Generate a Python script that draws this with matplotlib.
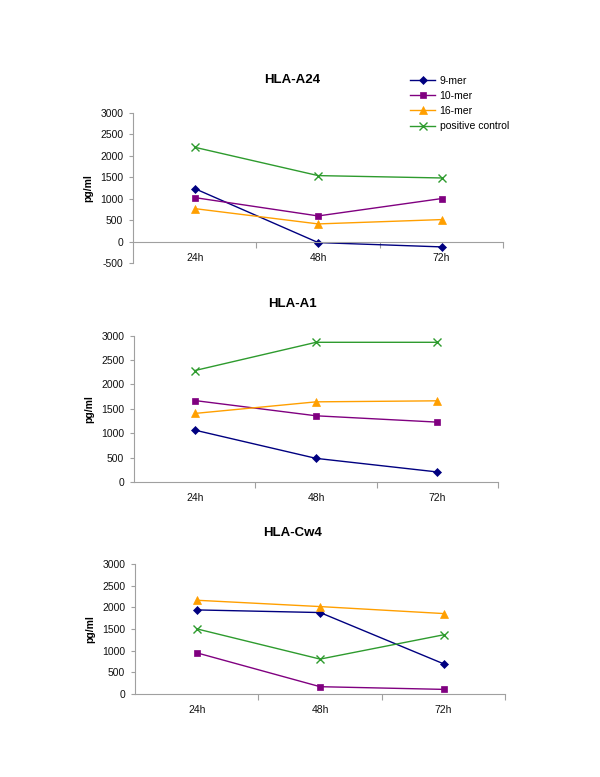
import matplotlib
matplotlib.use("Agg")
import matplotlib.pyplot as plt
from matplotlib.ticker import FixedLocator

plt.rcParams['font.family'] = ['Liberation Sans', 'DejaVu Sans']
plt.rcParams['axes.unicode_minus'] = False

# === data ===
times = ["24h", "48h", "72h"]
series_names = ["9-mer", "10-mer", "16-mer", "positive control"]

a24_9mer = [1236, -23, -124]
a24_10mer = [1026, 598, 1003]
a24_16mer = [769, 412, 513]
a24_pos = [2200, 1539, 1484]

a1_9mer = [1064, 484, 205]
a1_10mer = [1670, 1357, 1227]
a1_16mer = [1405, 1643, 1664]
a1_pos = [2284, 2864, 2864]

cw4_9mer = [1941, 1880, 698]
cw4_10mer = [951, 169, 107]
cw4_16mer = [2164, 2018, 1857]
cw4_pos = [1504, 806, 1366]

# === styles ===
colors = ["#000080", "#800080", "#FF9F00", "#2E9B2E"]
markers = ["D", "s", "^", "x"]
msizes = [4, 4.5, 5.5, 5.5]
axis_gray = "#A0A0A0"

fig = plt.figure(figsize=(6, 7.77), dpi=100)

panels = [
    ("HLA-A24", [a24_9mer, a24_10mer, a24_16mer, a24_pos],
     [0.2217, 0.6615, 0.617, 0.1931], (-500, 3000), 0.897),
    ("HLA-A1", [a1_9mer, a1_10mer, a1_16mer, a1_pos],
     [0.2233, 0.3797, 0.607, 0.1883], (0, 3000), 0.609),
    ("HLA-Cw4", [cw4_9mer, cw4_10mer, cw4_16mer, cw4_pos],
     [0.225, 0.1068, 0.617, 0.1673], (0, 3000), 0.314),
]

x = list(range(len(times)))
first_ax = None
for title, data, rect, ylim, ty in panels:
    ax = fig.add_axes(rect)
    for vals, name, c, m, ms in zip(data, series_names, colors, markers, msizes):
        ax.plot(x, vals, color=c, marker=m, markersize=ms, lw=1.0,
                markeredgewidth=1.0 if m == "x" else 0.5, label=name)
    ax.set_xlim(-0.5, 2.5)
    ax.set_ylim(*ylim)
    ax.set_yticks(range(ylim[0], 3001, 500))
    ax.set_xticks(x)
    ax.set_xticklabels(times)
    ax.xaxis.set_minor_locator(FixedLocator([0.5, 1.5, 2.5]))
    for s in ["top", "right"]:
        ax.spines[s].set_visible(False)
    ax.spines["left"].set_color(axis_gray)
    ax.spines["bottom"].set_color(axis_gray)
    ax.spines["bottom"].set_position(("data", 0))
    ax.tick_params(axis="y", colors=axis_gray, labelcolor="#111111",
                   labelsize=7.5, length=3, width=0.8, direction="out", pad=4)
    ax.tick_params(axis="x", which="major", length=0, labelsize=7.5,
                   labelcolor="#111111", pad=8)
    ax.tick_params(axis="x", which="minor", length=4, width=0.8,
                   color=axis_gray, direction="out")
    ax.set_ylabel("pg/ml", fontsize=7.5, fontweight="bold", labelpad=5)
    fig.text(0.487, ty, title, ha="center", va="center",
             fontsize=9.5, fontweight="bold")
    if first_ax is None:
        first_ax = ax

first_ax.legend(loc="upper left", bbox_to_anchor=(0.677, 0.908),
                bbox_transform=fig.transFigure, frameon=False, fontsize=7.5,
                handlelength=2.4, labelspacing=0.5, handletextpad=0.4,
                borderaxespad=0)

fig.savefig("out.png", dpi=100)
